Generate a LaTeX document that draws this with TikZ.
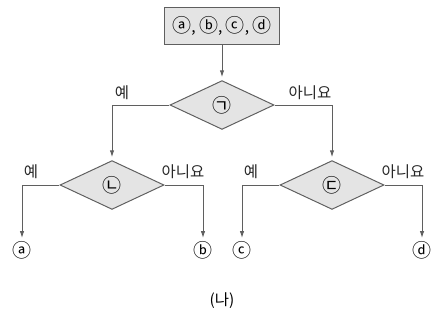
\documentclass[tikz,border=0pt]{standalone}
\usepackage{fontspec}
\setmainfont{Noto Sans CJK KR}
\usepackage{tikz}
\usetikzlibrary{arrows.meta,positioning,shapes.geometric}
\definecolor{flowline}{RGB}{95,95,95}
\definecolor{flowtip}{RGB}{40,40,40}
\definecolor{flowfill}{RGB}{228,228,228}
\newcommand{\circmark}[1]{{\fontsize{13.5}{15}\selectfont #1}}
\tikzset{
  startbox/.style={draw=flowline, line width=0.7pt, fill=flowfill,
    minimum width=2.85cm, minimum height=0.92cm, inner sep=2pt},
  decision/.style={diamond, draw=flowline, line width=0.7pt, fill=flowfill,
    minimum width=2.6cm, minimum height=1.22cm, inner sep=0pt},
  leaf/.style={inner sep=0pt},
  answer/.style={font=\fontsize{11}{12}\selectfont, text=black!85},
  flow/.style={-{Latex[length=5pt,width=3.2pt]}, line width=0.7pt, draw=flowline,
    shorten >=2pt}
}

\begin{document}
\begin{tikzpicture}[x=0.025cm, y=0.025cm, font=\fontsize{11}{12}\selectfont]
      \useasboundingbox (0,0) rectangle (433,-324);
      \node[startbox] (start) at (222,-26) {\circmark{ⓐ}, \circmark{ⓑ}, \circmark{ⓒ}, \circmark{ⓓ}};
      \node[decision] (q1) at (222,-105) {\circmark{㉠}};
      \node[decision] (q2) at (112,-185) {\circmark{㉡}};
      \node[decision] (q3) at (332,-185) {\circmark{㉢}};
      \node[leaf] (a) at (22,-250) {\circmark{ⓐ}};
      \node[leaf] (b) at (203,-250) {\circmark{ⓑ}};
      \node[leaf] (c) at (242,-250) {\circmark{ⓒ}};
      \node[leaf] (d) at (422,-250) {\circmark{ⓓ}};
      % answers
      \node[answer] (q1yes) at (122,-93) {예};
      \node[answer] (q1no) at (310,-93) {아니요};
      \node[answer] (q2yes) at (31,-172) {예};
      \node[answer] (q2no) at (183,-172) {아니요};
      \node[answer] (q3yes) at (251,-172) {예};
      \node[answer] (q3no) at (403,-172) {아니요};
      \node (caption) at (222,-301) {(나)};
      \draw[flow] (start) -- (q1);
      \draw[flow] (q1.west) -| (q2.north);
      \draw[flow] (q1.east) -| (q3.north);
      \draw[flow] (q2.west) -| (a);
      \draw[flow] (q2.east) -| (b);
      \draw[flow] (q3.west) -| (c);
      \draw[flow] (q3.east) -| (d);
    \end{tikzpicture}
\end{document}
